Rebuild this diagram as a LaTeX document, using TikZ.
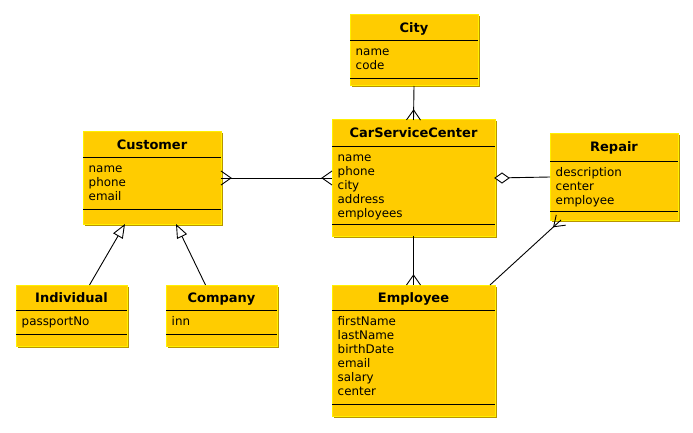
\documentclass[tikz,border=0pt]{standalone}
\usepackage{fontspec}
\setmainfont{DejaVu Sans}
\usetikzlibrary{arrows.meta,calc}
\definecolor{boxfill}{HTML}{FFCC00}
\definecolor{boxedge}{HTML}{FFF000}
\definecolor{boxshadow}{HTML}{B89400}
\tikzset{
  classbox/.style={fill=boxfill, draw=boxedge, line width=1pt, inner sep=0pt, outer sep=0pt, rectangle},
  sepline/.style={draw=black, line width=0.9pt},
  titletext/.style={font=\fontsize{13}{15}\selectfont\bfseries, inner sep=0pt},
  attrtext/.style={font=\fontsize{11.9}{14}\selectfont, inner sep=0pt},
  conn/.style={draw=black, line width=0.9pt},
  genarrow/.style={conn, -{Triangle[length=14pt,width=11pt,fill=white,line width=0.9pt]}},
}
\newcommand\umlclass[9]{%
  \fill[boxshadow] (#2+1.5,#3+1.5) rectangle (#4+1.5,#5+1.5);
  \node[classbox, minimum width={(#4-#2)*1pt}, minimum height={(#5-#3)*1pt}, anchor=north west] (#1) at (#2,#3) {};
  \draw[sepline] (#2,#6) -- (#4,#6);
  \draw[sepline] (#2,#7) -- (#4,#7);
  \node[titletext, anchor=base] (#1-title) at ({(#2+#4)/2},{#3+17.5}) {#8};
  \foreach \attrname [count=\i] in {#9}
    \node[attrtext, anchor=base west] (#1-a\i) at ({#2+5.5},{#6+15.3+(\i-1)*14}) {\attrname};
}
\newcommand\crowfoot[2]{%
  \draw[conn] ($(#1)!7pt!90:(#2)$) -- ($(#1)!10pt!(#2)$) -- ($(#1)!7pt!-90:(#2)$);
}
\begin{document}
\begin{tikzpicture}[x=1pt,y=-1pt]
\useasboundingbox[fill=white] (0,0) rectangle (693,433);

\umlclass{city}{350}{15}{478}{86}{40}{78}{City}{name,code}
\umlclass{cust}{83}{132}{221}{224}{157}{209}{Customer}{name,phone,email}
\umlclass{csc}{332}{120}{495}{236}{146}{224}{CarServiceCenter}{name,phone,city,address,employees}
\umlclass{rep}{550}{134}{678}{220}{161}{211}{Repair}{description,center,employee}
\umlclass{ind}{16}{285}{127}{346}{310}{334}{Individual}{passportNo}
\umlclass{comp}{166}{285}{277}{346}{310}{334}{Company}{inn}
\umlclass{emp}{332}{285}{495}{416}{310}{404}{Employee}{firstName,lastName,birthDate,email,salary,center}

% City -- CarServiceCenter
\draw[conn] (city.south) -- (csc.north);
\crowfoot{csc.north}{city.south}

% Customer -- CarServiceCenter
\draw[conn] (cust.east) -- (csc.west);
\crowfoot{cust.east}{csc.west}
\crowfoot{csc.west}{cust.east}

% CarServiceCenter <>-- Repair
\draw[conn] (csc.east) -- (rep.west);
\draw[conn, fill=white] (csc.east) -- ++(7,-5) -- ++(7,5) -- ++(-7,5) -- cycle;

% CarServiceCenter -- Employee
\draw[conn] (csc.south) -- (emp.north);
\crowfoot{emp.north}{csc.south}

% Employee -- Repair
\coordinate (er1) at ($(emp.north east)+(-5,0)$);
\coordinate (er2) at ($(rep.south west)+(11,0)$);
\draw[conn] (er1) -- (er2);
\crowfoot{er2}{er1}

% Generalizations
\coordinate (g1s) at ($(ind.north)+(18,0)$);
\coordinate (g1e) at ($(cust.south)+(-27,0)$);
\draw[genarrow] (g1s) -- (g1e);
\coordinate (g2s) at ($(comp.north)+(-16,0)$);
\coordinate (g2e) at ($(cust.south)+(24,0)$);
\draw[genarrow] (g2s) -- (g2e);
\end{tikzpicture}
\end{document}
